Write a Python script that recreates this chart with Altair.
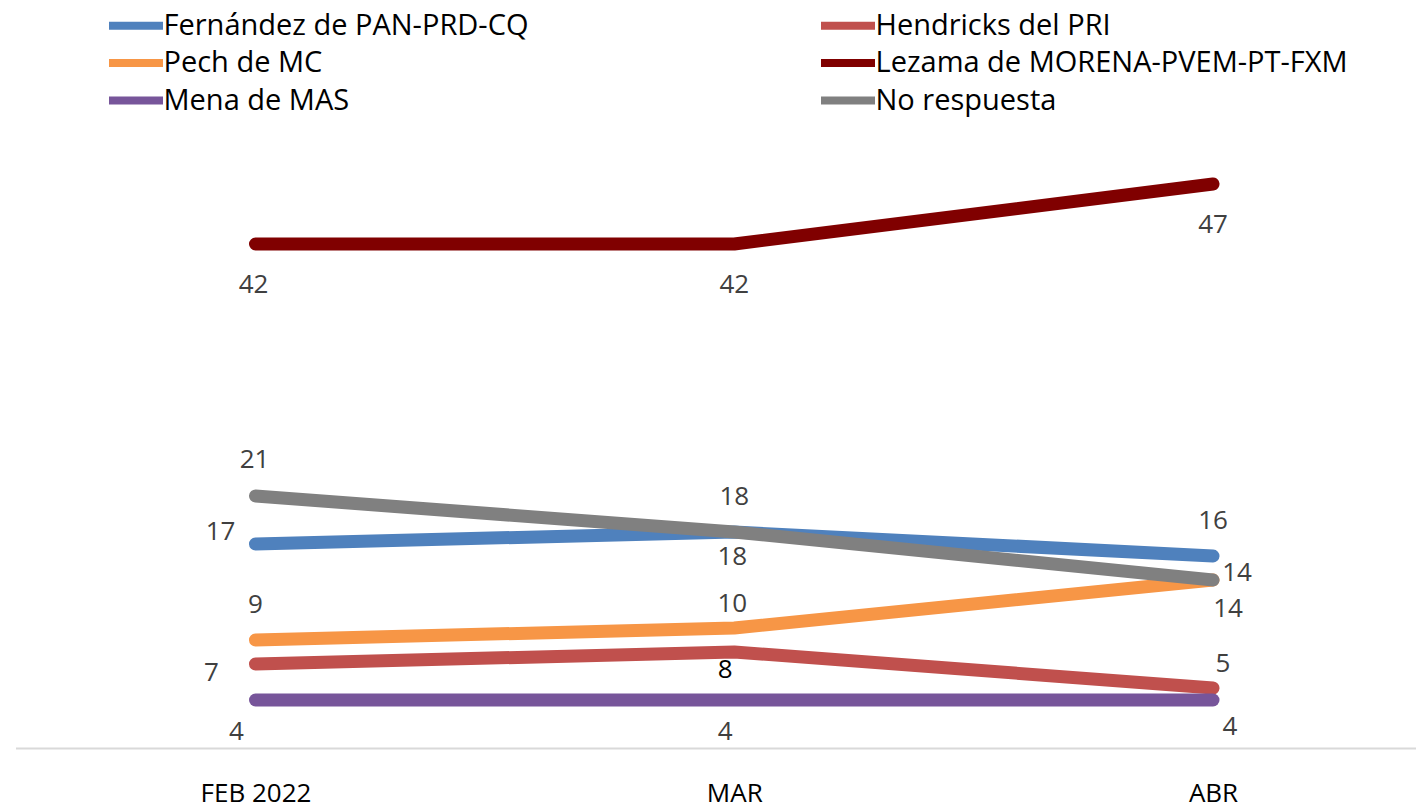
import altair as alt
import pandas as pd

months = ["FEB 2022", "MAR", "ABR"]
series = [
    "Fernández de PAN-PRD-CQ",
    "Hendricks del PRI",
    "Pech de MC",
    "Lezama de MORENA-PVEM-PT-FXM",
    "Mena de MAS",
    "No respuesta",
]
fernandez = [17, 18, 16]
hendricks = [7, 8, 5]
pech = [9, 10, 14]
lezama = [42, 42, 47]
mena = [4, 4, 4]
no_respuesta = [21, 18, 14]

colors = ["#4F81BD", "#C0504D", "#F79646", "#800000", "#77559A", "#808080"]

values = [fernandez, hendricks, pech, lezama, mena, no_respuesta]
rows = []
for s, vals in zip(series, values):
    for m, v in zip(months, vals):
        rows.append({"serie": s, "mes": m, "valor": v})
df = pd.DataFrame(rows)

# legend fills column by column: order it so rows read like the reference
legend_order = [series[0], series[2], series[4], series[1], series[3], series[5]]
legend_colors = [colors[series.index(s)] for s in legend_order]

# label placement (style only): (dx, dy) per series and month
label_offsets = {
    series[0]: [(-35, -12), (-2, 25), (0, -35)],
    series[1]: [(-44, 9), (-9, 18), (10, -24)],
    series[2]: [(0, -35), (-2, -24), (15, 29)],
    series[3]: [(-2, 41), (0, 41), (0, 41)],
    series[4]: [(-19, 32), (-9, 32), (17, 27)],
    series[5]: [(-1, -36), (0, -35), (24, -7)],
}

FONT = "Open Sans"

x_enc = alt.X(
    "mes:N",
    sort=months,
    scale=alt.Scale(type="point", padding=0.4621, align=0.5424),
    axis=alt.Axis(
        title=None,
        labelAngle=0,
        ticks=False,
        grid=False,
        domainColor="#D9D9D9",
        domainWidth=2,
        labelFontSize=26,
        labelFont=FONT,
        labelColor="#000000",
        labelPadding=32,
    ),
)
y_enc = alt.Y("valor:Q", scale=alt.Scale(domain=[0, 50], nice=False, zero=True), axis=None)
color_enc = alt.Color(
    "serie:N",
    scale=alt.Scale(domain=legend_order, range=legend_colors),
    legend=alt.Legend(
        title=None,
        orient="none",
        legendX=103,
        legendY=-140,
        columns=2,
        columnPadding=276,
        rowPadding=3.5,
        symbolType="M-2,0H2",
        symbolSize=729,
        symbolStrokeWidth=8,
        labelFontSize=29,
        labelFont=FONT,
        labelColor="#000000",
        labelLimit=800,
        labelOffset=10,
    ),
)

layers = []
for s in series:
    layers.append(
        alt.Chart(df)
        .transform_filter(alt.datum.serie == s)
        .mark_line(strokeWidth=13, strokeCap="round", strokeJoin="round")
        .encode(x=x_enc, y=y_enc, color=color_enc)
    )

for s in series:
    for i, m in enumerate(months):
        dx, dy = label_offsets[s][i]
        col = "#000000" if (s == series[1] and m == "MAR") else "#404040"
        layers.append(
            alt.Chart(df)
            .transform_filter((alt.datum.serie == s) & (alt.datum.mes == m))
            .mark_text(dx=dx, dy=dy, fontSize=26, font=FONT, color=col, baseline="middle", align="center")
            .encode(x=x_enc, y=y_enc, text="valor:Q")
        )

chart = (
    alt.layer(*layers)
    .properties(
        width=1400,
        height=600,
        autosize=alt.AutoSizeParams(type="none"),
        padding={"left": 7.5, "top": 140, "right": 0, "bottom": 56},
    )
    .configure_view(stroke=None)
)

chart.save("out.html", embed_options={"renderer": "svg", "actions": False})
